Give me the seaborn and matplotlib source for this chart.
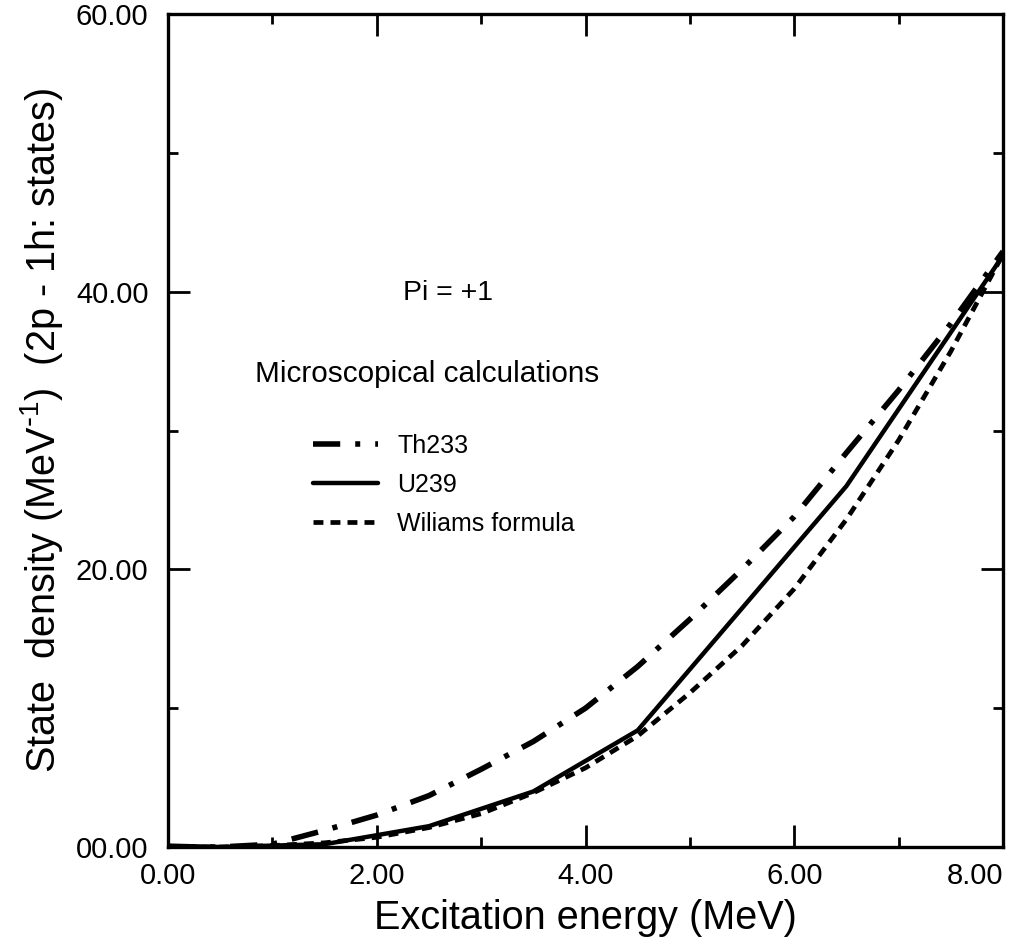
import matplotlib
matplotlib.use("Agg")
import matplotlib.pyplot as plt
import seaborn as sns
from matplotlib.ticker import MultipleLocator

# Energies (MeV) and state densities
energy = [0.0, 0.5, 1.0, 1.5, 2.0, 2.5, 3.0, 3.5, 4.0, 4.5, 5.0, 5.5, 6.0, 6.5, 7.0, 7.5, 8.0]
th233 = [0.0, 0.0, 0.2, 1.2, 2.3, 3.7, 5.6, 7.6, 10.0, 13.0, 16.4, 20.0, 23.8, 28.4, 32.9, 37.7, 42.9]
williams = [0.0, 0.0, 0.1, 0.3, 0.7, 1.4, 2.4, 3.9, 5.7, 8.0, 11.1, 14.5, 18.6, 23.6, 29.3, 35.7, 42.7]

energy_u = [0.0, 0.5, 1.5, 2.5, 3.5, 4.5, 6.5, 8.0]
u239 = [0.1, 0.0, 0.2, 1.5, 4.0, 8.4, 26.0, 42.6]

x_ticks = [0, 2, 4, 6, 8]
x_tick_labels = ["0.00", "2.00", "4.00", "6.00", "8.00"]
y_ticks = [0, 20, 40, 60]
y_tick_labels = ["00.00", "20.00", "40.00", "60.00"]

sns.set_style("ticks")
plt.rcParams['font.family'] = ['Liberation Sans', 'DejaVu Sans']
plt.rcParams['mathtext.default'] = 'regular'
plt.rcParams['text.color'] = 'black'
plt.rcParams['axes.labelcolor'] = 'black'

fig = plt.figure(figsize=(10.16, 9.51), dpi=100)
ax = fig.add_axes([168 / 1016, 104 / 951, 835 / 1016, 833 / 951])

# trois courbes noires, distinguées par le style de trait
sns.lineplot(x=energy, y=th233, ax=ax, color="black", lw=4,
             linestyle=(0, (4.9, 2.7, 0.9, 2.7)), label="Th233")
sns.lineplot(x=energy_u, y=u239, ax=ax, color="black", lw=3.2,
             linestyle="-", label="U239")
sns.lineplot(x=energy, y=williams, ax=ax, color="black", lw=3.4,
             linestyle=(0, (2.1, 1.5)), label="Wiliams formula")

ax.set_xlim(0, 8)
ax.set_ylim(0, 60)
ax.set_xticks(x_ticks, labels=x_tick_labels)
ax.set_yticks(y_ticks, labels=y_tick_labels)
ax.xaxis.set_minor_locator(MultipleLocator(1))
ax.yaxis.set_minor_locator(MultipleLocator(10))

ax.tick_params(which="both", direction="in", top=True, right=True,
               width=2, colors="black", labelsize=21)
ax.tick_params(which="major", length=16, pad=11)
ax.tick_params(which="minor", length=7)
ax.tick_params(axis="y", which="major", pad=14)
for s in ax.spines.values():
    s.set_linewidth(2.4)
    s.set_color("black")

# le dernier label x est rentré dans le cadre, comme sur l'original
ax.get_xticklabels()[-1].set_horizontalalignment("right")

ax.set_xlabel("Excitation energy (MeV)", fontsize=28.5, labelpad=6)
ax.set_ylabel(r"State  density (MeV$^{\text{-}1}$)  (2p - 1h: states)",
              fontsize=28.5, labelpad=8)

ax.text(2.25, 39.9, "Pi = +1", fontsize=20.5, va="center", ha="left")
ax.text(0.83, 34.1, "Microscopical calculations", fontsize=21.4,
        va="center", ha="left")

ax.legend(loc="upper left", bbox_to_anchor=(0.174, 0.496), frameon=False,
          fontsize=18, handlelength=2.6, handletextpad=0.75, labelspacing=0.6,
          borderpad=0, borderaxespad=0)

fig.savefig("out.png", dpi=100)
plt.close(fig)
